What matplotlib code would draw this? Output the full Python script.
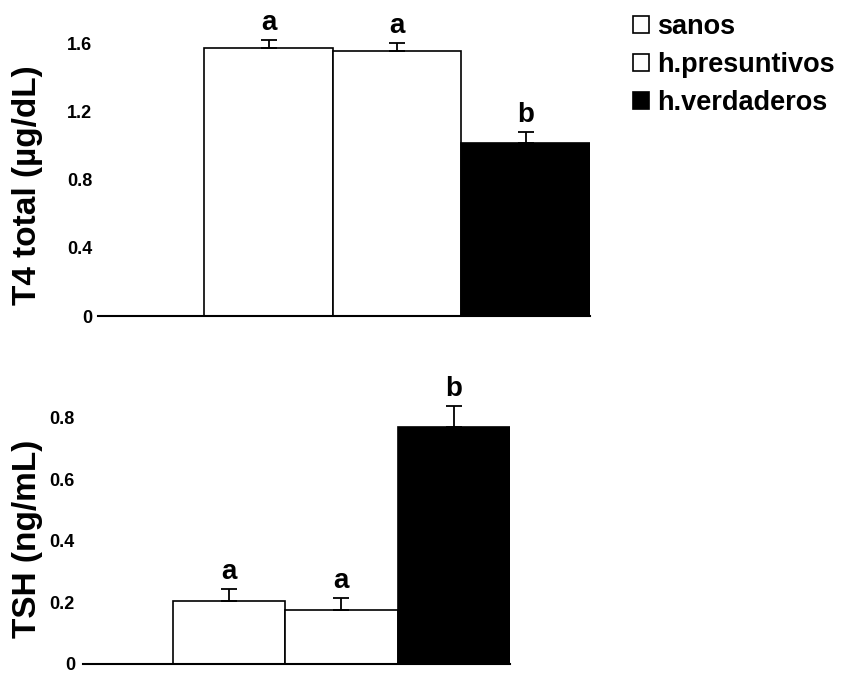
import matplotlib
matplotlib.use("Agg")
import matplotlib.pyplot as plt
from matplotlib.patches import Patch
import numpy as np

plt.rcParams['font.family'] = ['Liberation Sans', 'DejaVu Sans']
plt.rcParams['font.weight'] = 'bold'

# grupos
grupos = ["sanos", "h.presuntivos", "h.verdaderos"]
colores = ["white", "white", "black"]

# T4 total (ug/dL)
t4_media = [1.57, 1.555, 1.015]
t4_error = [0.047, 0.045, 0.066]
t4_letras = ["a", "a", "b"]
t4_ticks = [0, 0.4, 0.8, 1.2, 1.6]
t4_ticklabels = ["0", "0.4", "0.8", "1.2", "1.6"]

# TSH (ng/mL)
tsh_media = [0.205, 0.175, 0.769]
tsh_error = [0.04, 0.04, 0.068]
tsh_letras = ["a", "a", "b"]
tsh_ticks = [0, 0.2, 0.4, 0.6, 0.8]
tsh_ticklabels = ["0", "0.2", "0.4", "0.6", "0.8"]

W, H = 842, 675
fig = plt.figure(figsize=(W / 100, H / 100), dpi=100)


def panel(rect, medias, errores, letras, ticks, ticklabels, ymax, xmin, pad):
    ax = fig.add_axes(rect)
    x = np.arange(1, len(medias) + 1)
    ax.bar(x, medias, width=1.0, color=colores, edgecolor="black", linewidth=1.2, zorder=2)
    ax.errorbar(x, medias, yerr=[np.zeros(len(errores)), errores], fmt="none",
                ecolor="black", elinewidth=1.3, capsize=6, capthick=1.3, zorder=3)
    for xi, m, e, l in zip(x, medias, errores, letras):
        ax.annotate(l, (xi, m + e), xytext=(0, 7), textcoords="offset points",
                    ha="center", va="baseline", fontsize=20, fontweight="bold",
                    annotation_clip=False)
    ax.set_xlim(xmin, 3.5)
    ax.set_ylim(0, ymax)
    ax.set_yticks(ticks)
    ax.set_yticklabels(ticklabels)
    ax.set_xticks([])
    ax.tick_params(axis="y", length=0, pad=pad, labelsize=13)
    for s in ["top", "right", "left"]:
        ax.spines[s].set_visible(False)
    ax.spines["bottom"].set_linewidth(1.5)
    ax.patch.set_alpha(0)
    return ax


# panel superior: T4
panel([98 / W, 1 - 316 / H, 492 / W, 1.8 * 170.6 / H],
      t4_media, t4_error, t4_letras, t4_ticks, t4_ticklabels, 1.8, -0.328, 4.3)
fig.text(28 / W, 1 - 185 / H, "T4 total (µg/dL)", rotation=90, ha="center",
         va="center", fontsize=24, fontweight="bold")

# panel inferior: TSH
panel([83 / W, 1 - 664 / H, 427 / W, 0.9 * 308 / H],
      tsh_media, tsh_error, tsh_letras, tsh_ticks, tsh_ticklabels, 0.9, -0.296, 5.8)
fig.text(28 / W, 1 - 539 / H, "TSH (ng/mL)", rotation=90, ha="center",
         va="center", fontsize=24, fontweight="bold")

handles = [Patch(facecolor=c, edgecolor="black", linewidth=1.2) for c in colores]
fig.legend(handles, grupos, loc="upper left", bbox_to_anchor=(633 / W, 1 - 14 / H),
           frameon=False, prop={"size": 19.5, "weight": "bold"},
           handlelength=0.6, handleheight=0.6, handletextpad=0.3,
           labelspacing=0.45, borderpad=0, borderaxespad=0)

fig.savefig("out.png", dpi=100)
